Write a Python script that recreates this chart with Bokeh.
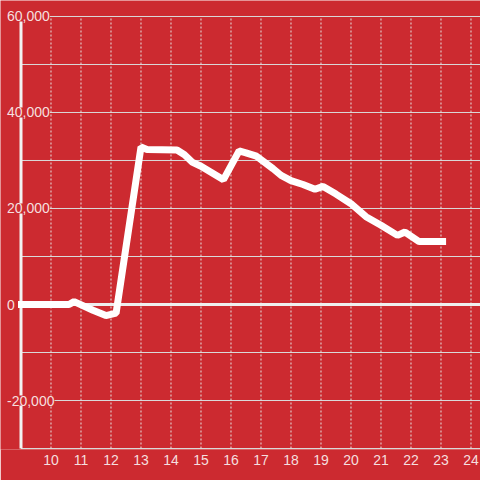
from bokeh.plotting import figure
from bokeh.models import ColumnDataSource, LabelSet, FixedTicker, Range1d
from bokeh.core.properties import value
from bokeh.embed import file_html
from bokeh.resources import INLINE

# ---- data ----
hours = [8.9, 10.6, 10.77, 11.4, 11.83, 12.17, 13.0, 13.2, 14.2, 14.45, 14.72,
         15.0, 15.75, 16.27, 16.5, 16.85, 17.4, 17.67, 18.0, 18.4, 18.8, 19.07,
         19.5, 20.0, 20.5, 21.0, 21.55, 21.8, 22.27, 23.17]
values = [0, 0, 600, -1200, -2300, -1800, 32800, 32300, 32200, 31200, 29600,
          28800, 26000, 32000, 31600, 30900, 28300, 26900, 25800, 25000, 24000, 24600,
          23000, 21000, 18300, 16500, 14400, 15100, 13100, 13100]

x_ticks = [10, 11, 12, 13, 14, 15, 16, 17, 18, 19, 20, 21, 22, 23, 24]
y_ticks = [60000, 40000, 20000, 0, -20000]
y_labels = ["60,000", "40,000", "20,000", "0", "-20,000"]
y_grid = [-30000, -20000, -10000, 10000, 20000, 30000, 40000, 50000, 60000]
x_axis_pos = 9
y_min, y_max = -30000, 60000
x_lo, x_hi = 8.3167, 24.317

BG = "#cc2a30"
TXT = "#f5dfdf"
FONT = "Liberation Sans"

p = figure(width=480, height=480, output_backend="svg", toolbar_location=None,
           title=None, y_axis_location=None,
           x_range=Range1d(x_lo, x_hi), y_range=Range1d(-30208, 63333),
           min_border_left=0, min_border_right=0, min_border_top=0,
           min_border_bottom=31)
p.background_fill_color = BG
p.border_fill_color = BG
p.outline_line_color = None
p.grid.visible = False

# x axis
ax = p.xaxis[0]
ax.ticker = FixedTicker(ticks=x_ticks)
ax.major_tick_out = 0
ax.major_tick_in = 0
ax.minor_tick_out = 0
ax.minor_tick_in = 0
ax.axis_line_color = None
ax.major_label_text_color = TXT
ax.major_label_text_font = FONT
ax.major_label_text_font_size = "14px"
ax.major_label_standoff = 5

# grid lines
n_y = len(y_grid)
p.segment(x0=[x_axis_pos] * n_y, x1=[x_hi] * n_y, y0=y_grid, y1=y_grid,
          line_color="#d9d9d9", line_width=1)
n_x = len(x_ticks)
p.segment(x0=x_ticks, x1=x_ticks, y0=[y_min] * n_x, y1=[y_max] * n_x,
          line_color="#e4e4e4", line_width=1, line_dash="2 2")

# zero line and y axis line
p.segment(x0=[x_axis_pos], x1=[x_hi], y0=[0], y1=[0], line_color="#eeeeee", line_width=3)
p.segment(x0=[x_axis_pos], x1=[x_axis_pos], y0=[y_min], y1=[y_max],
          line_color="#f2f2f2", line_width=3)

# data line
p.line(hours, values, line_color="white", line_width=7)

# y labels
src = ColumnDataSource(dict(x=[x_axis_pos] * len(y_ticks), y=y_ticks, text=y_labels))
labels = LabelSet(x="x", y="y", text="text", source=src, x_offset=-14,
                  text_align="left", text_baseline="middle",
                  text_font=value(FONT), text_font_size=value("14px"),
                  text_color=TXT, background_fill_color=BG)
p.add_layout(labels)

open("out.html", "w").write(file_html(p, INLINE))
